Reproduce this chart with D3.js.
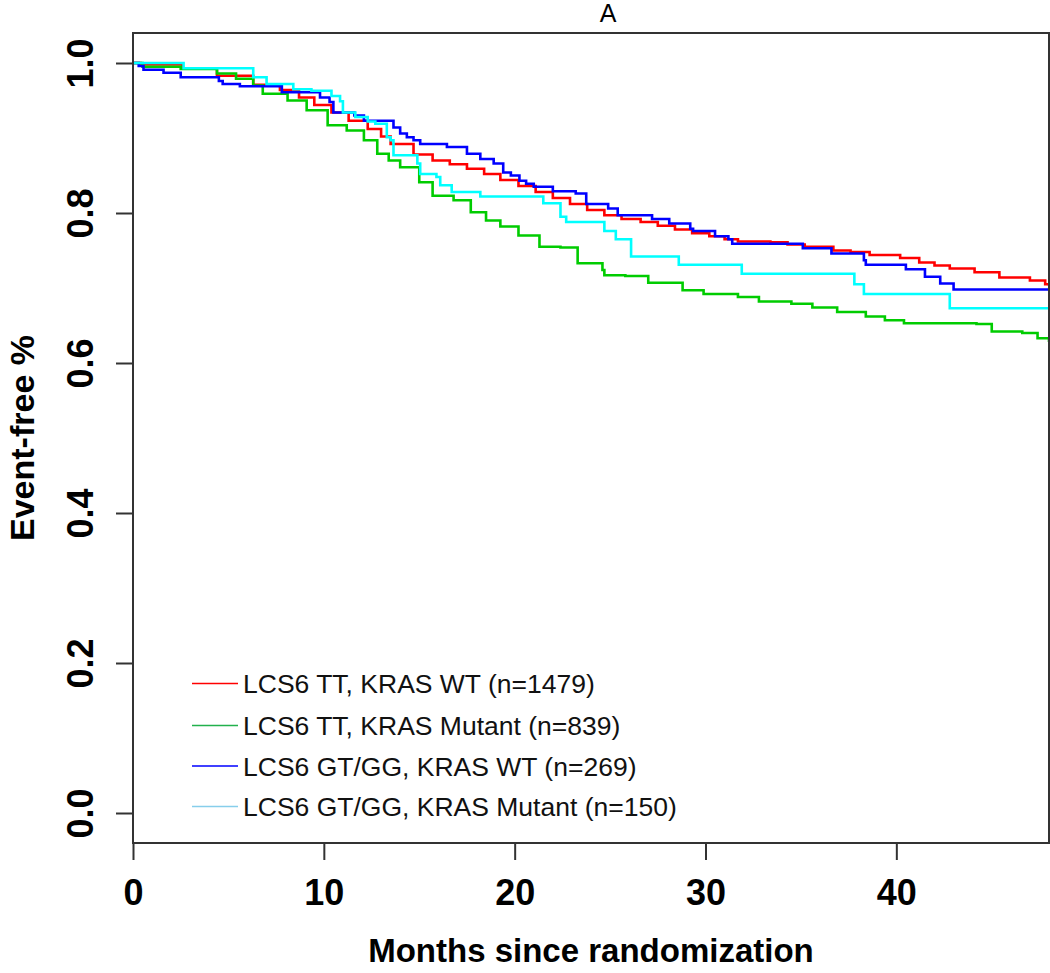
<!DOCTYPE html>
<html>
<head>
<meta charset="utf-8">
<script src="https://cdn.jsdelivr.net/npm/d3@7"></script>
<style>
  html, body { margin: 0; padding: 0; background: #fff; }
  svg { display: block; font-family: "Liberation Sans", Arial, sans-serif; }
</style>
</head>
<body>
<svg id="chart" width="1050" height="973"></svg>
<script>
// ---------------- data ----------------
const title = "A";
const xLabel = "Months since randomization";
const yLabel = "Event-free %";
const xTicks = [0, 10, 20, 30, 40];
const yTicks = [0.0, 0.2, 0.4, 0.6, 0.8, 1.0];
const seriesNames = [
  "LCS6 TT, KRAS WT (n=1479)",
  "LCS6 TT, KRAS Mutant (n=839)",
  "LCS6 GT/GG, KRAS WT (n=269)",
  "LCS6 GT/GG, KRAS Mutant (n=150)"
];
const seriesColors = ["#ff0000", "#00cc00", "#0000ff", "#00ffff"];
const legendColors = ["#ff0000", "#22b14c", "#0000ff", "#87ceeb"];

// LCS6 TT, KRAS WT
const ttWtTime = [0, 0.4, 2.6, 4.4, 6.3, 7.7, 8.7, 9.5, 10.4, 11.3, 12.3, 13.0, 13.5, 14.7, 15.7, 16.6, 17.5, 18.4, 19.25, 20.2, 21.1, 22.0, 22.9, 23.8, 24.7, 25.6, 26.6, 27.5, 28.4, 29.3, 30.2, 31.0, 31.7, 33.4, 34.3, 35.2, 36.7, 37.6, 38.6, 40.2, 41.2, 42.0, 42.8, 44.1, 45.4, 47.0, 47.8, 48];
const ttWtSurv = [1.0, 0.998, 0.993, 0.983, 0.971, 0.964, 0.954, 0.944, 0.934, 0.923, 0.912, 0.902, 0.892, 0.878, 0.870, 0.865, 0.859, 0.852, 0.844, 0.836, 0.828, 0.820, 0.812, 0.804, 0.797, 0.792, 0.788, 0.783, 0.778, 0.773, 0.769, 0.765, 0.762, 0.761, 0.758, 0.755, 0.750, 0.748, 0.744, 0.740, 0.734, 0.730, 0.726, 0.721, 0.714, 0.710, 0.705, 0.703];

// LCS6 TT, KRAS Mutant
const ttMutTime = [0, 0.5, 2.5, 4.4, 5.4, 6.3, 6.8, 8.1, 9.1, 10.2, 11.2, 12.1, 12.8, 13.4, 14.0, 15.0, 15.7, 16.8, 17.7, 18.5, 19.25, 20.2, 21.3, 22.4, 23.3, 24.6, 24.7, 25.8, 27.0, 28.8, 29.9, 31.7, 32.8, 34.5, 35.6, 36.9, 38.4, 39.4, 40.4, 44.2, 45.0, 46.6, 47.4, 48];
const ttMutSurv = [1.0, 0.995, 0.992, 0.986, 0.979, 0.970, 0.959, 0.950, 0.937, 0.917, 0.910, 0.897, 0.879, 0.870, 0.861, 0.841, 0.823, 0.817, 0.801, 0.790, 0.782, 0.770, 0.755, 0.754, 0.733, 0.724, 0.717, 0.716, 0.707, 0.697, 0.692, 0.688, 0.682, 0.679, 0.674, 0.668, 0.662, 0.657, 0.653, 0.652, 0.642, 0.640, 0.633, 0.628];

// LCS6 GT/GG, KRAS WT
const gtWtTime = [0, 0.3, 0.55, 1.6, 2.5, 4.5, 4.7, 5.6, 7.8, 9.8, 10.3, 10.5, 11.6, 12.1, 13.65, 14.0, 14.35, 14.7, 15.05, 16.45, 17.5, 18.2, 18.9, 19.4, 19.8, 20.25, 20.6, 21.0, 22.0, 23.2, 23.75, 24.9, 25.4, 27.2, 28.1, 29.2, 29.35, 30.5, 31.2, 31.4, 35.1, 36.6, 38.3, 38.4, 40.5, 41.5, 42.3, 43.0, 48];
const gtWtSurv = [1.0, 0.996, 0.991, 0.987, 0.981, 0.976, 0.972, 0.969, 0.961, 0.954, 0.948, 0.934, 0.930, 0.923, 0.914, 0.906, 0.901, 0.897, 0.892, 0.888, 0.879, 0.872, 0.866, 0.854, 0.850, 0.843, 0.839, 0.835, 0.829, 0.826, 0.812, 0.806, 0.797, 0.792, 0.786, 0.779, 0.776, 0.769, 0.765, 0.759, 0.753, 0.746, 0.737, 0.731, 0.725, 0.715, 0.706, 0.698, 0.698];

// LCS6 GT/GG, KRAS Mutant
const gtMutTime = [0, 2.65, 6.3, 7.0, 8.4, 9.35, 10.4, 10.85, 11.0, 11.65, 12.3, 12.7, 13.3, 13.5, 13.65, 14.9, 15.05, 15.9, 16.1, 16.7, 18.2, 21.5, 22.4, 22.7, 24.7, 25.3, 26.1, 28.6, 31.9, 37.8, 38.3, 42.8, 48];
const gtMutSurv = [1.0, 0.993, 0.981, 0.972, 0.965, 0.963, 0.956, 0.949, 0.934, 0.928, 0.922, 0.919, 0.901, 0.897, 0.877, 0.866, 0.852, 0.848, 0.837, 0.828, 0.822, 0.813, 0.795, 0.788, 0.776, 0.765, 0.742, 0.731, 0.719, 0.705, 0.692, 0.673, 0.673];

const seriesTimes = [ttWtTime, ttMutTime, gtWtTime, gtMutTime];
const seriesSurvs = [ttWtSurv, ttMutSurv, gtWtSurv, gtMutSurv];

// ---------------- layout ----------------
const svg = d3.select("#chart");
const plot = { left: 133, right: 1049, top: 33, bottom: 843 };

const x = d3.scaleLinear().domain([0, 48]).range([plot.left, plot.right]);
const y = d3.scaleLinear().domain([-0.04, 1.04]).range([plot.bottom, plot.top]);

svg.append("defs").append("clipPath").attr("id", "clip")
  .append("rect")
  .attr("x", plot.left).attr("y", plot.top)
  .attr("width", plot.right - plot.left).attr("height", plot.bottom - plot.top);

// curves
const line = d3.line()
  .x(d => x(d[0]))
  .y(d => y(d[1]))
  .curve(d3.curveStepAfter);

const curvesG = svg.append("g").attr("clip-path", "url(#clip)");
seriesTimes.forEach((ts, i) => {
  const pts = ts.map((t, j) => [t, seriesSurvs[i][j]]);
  curvesG.append("path")
    .datum(pts)
    .attr("d", line)
    .attr("fill", "none")
    .attr("stroke", seriesColors[i])
    .attr("stroke-width", 2.6)
    .attr("stroke-linejoin", "miter");
});

// frame
svg.append("rect")
  .attr("x", plot.left).attr("y", plot.top)
  .attr("width", plot.right - plot.left).attr("height", plot.bottom - plot.top)
  .attr("fill", "none").attr("stroke", "#333").attr("stroke-width", 2);

// x axis
const xAxis = d3.axisBottom(x).tickValues(xTicks).tickSize(17).tickPadding(8).tickFormat(d3.format("d"));
const gx = svg.append("g").attr("transform", `translate(0,${plot.bottom})`).call(xAxis);
gx.select(".domain").remove();
gx.selectAll(".tick line").attr("stroke", "#333").attr("stroke-width", 2);
gx.selectAll(".tick text")
  .attr("font-family", "Liberation Sans, Arial, sans-serif")
  .attr("font-size", 36).attr("font-weight", "bold").attr("fill", "#000")
  .attr("dy", null).attr("y", 62);

// y axis
const yAxis = d3.axisLeft(y).tickValues(yTicks).tickSize(17).tickFormat(d3.format(".1f"));
const gy = svg.append("g").attr("transform", `translate(${plot.left},0)`).call(yAxis);
gy.select(".domain").remove();
gy.selectAll(".tick line").attr("stroke", "#333").attr("stroke-width", 2);
gy.selectAll(".tick text")
  .attr("font-family", "Liberation Sans, Arial, sans-serif")
  .attr("font-size", 36).attr("font-weight", "bold").attr("fill", "#000")
  .attr("x", null).attr("dy", null)
  .attr("text-anchor", "middle")
  .attr("transform", "translate(-40,0) rotate(-90)");

// titles
svg.append("text")
  .attr("x", 608).attr("y", 22)
  .attr("text-anchor", "middle")
  .attr("font-size", 25).attr("fill", "#000")
  .text(title);

svg.append("text")
  .attr("x", (plot.left + plot.right) / 2).attr("y", 962)
  .attr("text-anchor", "middle")
  .attr("font-size", 33).attr("font-weight", "bold").attr("fill", "#000")
  .text(xLabel);

svg.append("text")
  .attr("transform", `translate(34,${(plot.top + plot.bottom) / 2}) rotate(-90)`)
  .attr("text-anchor", "middle")
  .attr("font-size", 34).attr("font-weight", "bold").attr("fill", "#000")
  .text(yLabel);

// legend
const legendRows = [683.5, 725.5, 766, 806.5];
const legend = svg.append("g");
seriesNames.forEach((name, i) => {
  legend.append("line")
    .attr("x1", 192).attr("x2", 238)
    .attr("y1", legendRows[i]).attr("y2", legendRows[i])
    .attr("stroke", legendColors[i]).attr("stroke-width", 1.6);
  legend.append("text")
    .attr("x", 243).attr("y", legendRows[i] + 9.5)
    .attr("font-size", 26.5).attr("fill", "#111")
    .text(name);
});
</script>
</body>
</html>
